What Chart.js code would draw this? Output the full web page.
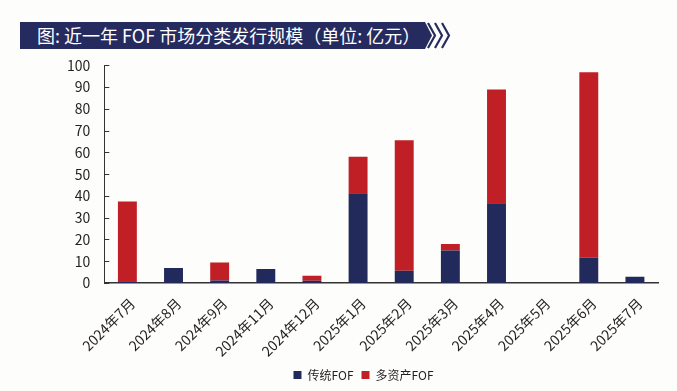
<!DOCTYPE html>
<html lang="zh">
<head>
  <meta charset="UTF-8" />
  <title>近一年 FOF 市场分类发行规模</title>
  <script src="https://cdn.jsdelivr.net/npm/chart.js"></script>
  <style>
    body {
      margin: 0;
      width: 677px;
      height: 391px;
      background: #fdfdfb;
      font-family: "Noto Sans CJK SC", "Noto Sans", sans-serif;
      position: relative;
      overflow: hidden;
    }
    .banner {
      position: absolute;
      left: 20px;
      top: 22px;
      width: 412px;
      height: 27px;
      background: #252b5f;
      clip-path: polygon(0 0, 405px 0, 412px 50%, 405px 100%, 0 100%);
      color: #fff;
      font-size: 18px;
      line-height: 27px;
      padding-left: 17px;
      box-sizing: border-box;
      white-space: nowrap;
    }
    .chevrons {
      position: absolute;
      left: 426px;
      top: 22px;
    }
    .chart-box {
      position: absolute;
      left: 0;
      top: 43px;
      width: 677px;
      height: 348px;
    }
  </style>
</head>
<body>

<div class="banner">图: 近一年 FOF 市场分类发行规模（单位: 亿元）</div>
<svg class="chevrons" width="28" height="27">
  <polyline points="2,1 9,13.5 2,26" fill="none" stroke="#252b5f" stroke-width="2.2"/>
  <polyline points="9,1 16,13.5 9,26" fill="none" stroke="#252b5f" stroke-width="2.2"/>
  <polyline points="16,1 23,13.5 16,26" fill="none" stroke="#252b5f" stroke-width="2.2"/>
</svg>

<div class="chart-box">
  <canvas id="fofChart"></canvas>
</div>

<script>
  const months = ["2024年7月", "2024年8月", "2024年9月", "2024年11月", "2024年12月", "2025年1月",
                  "2025年2月", "2025年3月", "2025年4月", "2025年5月", "2025年6月", "2025年7月"];
  const traditionalFOF = [0.8, 6.9, 1.2, 6.4, 1.0, 41.2, 5.6, 14.9, 36.6, 0, 11.6, 2.9];
  const multiAssetFOF = [36.6, 0, 8.2, 0, 2.3, 16.8, 60.0, 3.0, 52.3, 0, 85.3, 0];
  const yTicks = [0, 10, 20, 30, 40, 50, 60, 70, 80, 90, 100];

  // short tick marks drawn on the inside of the y axis,
  // and legend nudged a little to the right like the original
  const chartTweaks = {
    id: "chartTweaks",
    afterUpdate(chart) {
      const lg = chart.legend;
      lg.left += 8;
      lg.right += 8;
      lg.adjustHitBoxes();
    },
    afterDraw(chart) {
      const y = chart.scales.y;
      const ctx = chart.ctx;
      ctx.save();
      ctx.strokeStyle = "#333";
      ctx.lineWidth = 1;
      yTicks.forEach(v => {
        const py = Math.round(y.getPixelForValue(v)) + 0.5;
        ctx.beginPath();
        ctx.moveTo(y.right, py);
        ctx.lineTo(y.right + 5, py);
        ctx.stroke();
      });
      ctx.restore();
    }
  };

  Chart.defaults.font.family = '"Noto Sans CJK SC", "Noto Sans", sans-serif';
  Chart.defaults.color = "#231f20";

  new Chart(document.getElementById("fofChart"), {
    type: "bar",
    data: {
      labels: months,
      datasets: [
        {
          label: "传统FOF",
          data: traditionalFOF,
          backgroundColor: "#22295b",
          barPercentage: 0.41,
          categoryPercentage: 1.0
        },
        {
          label: "多资产FOF",
          data: multiAssetFOF,
          backgroundColor: "#c01f26",
          barPercentage: 0.41,
          categoryPercentage: 1.0
        }
      ]
    },
    options: {
      responsive: true,
      maintainAspectRatio: false,
      animation: false,
      layout: { padding: { left: 53, right: 19, top: 4, bottom: 0 } },
      plugins: {
        legend: {
          position: "bottom",
          labels: {
            boxWidth: 8,
            boxHeight: 8,
            padding: 8,
            font: { size: 12 }
          }
        },
        tooltip: { enabled: false }
      },
      scales: {
        x: {
          stacked: true,
          afterFit(scale) { scale.height = 78; },
          grid: { display: false, drawTicks: false },
          border: { color: "#333", width: 1.5 },
          ticks: {
            maxRotation: 45,
            minRotation: 45,
            padding: 12,
            labelOffset: 5,
            font: { size: 14 }
          }
        },
        y: {
          stacked: true,
          min: 0,
          max: 100,
          grid: { display: false, drawTicks: false },
          border: { color: "#333", width: 1 },
          ticks: {
            stepSize: 10,
            padding: 14,
            font: { size: 14 }
          }
        }
      }
    },
    plugins: [chartTweaks]
  });
</script>
</body>
</html>
